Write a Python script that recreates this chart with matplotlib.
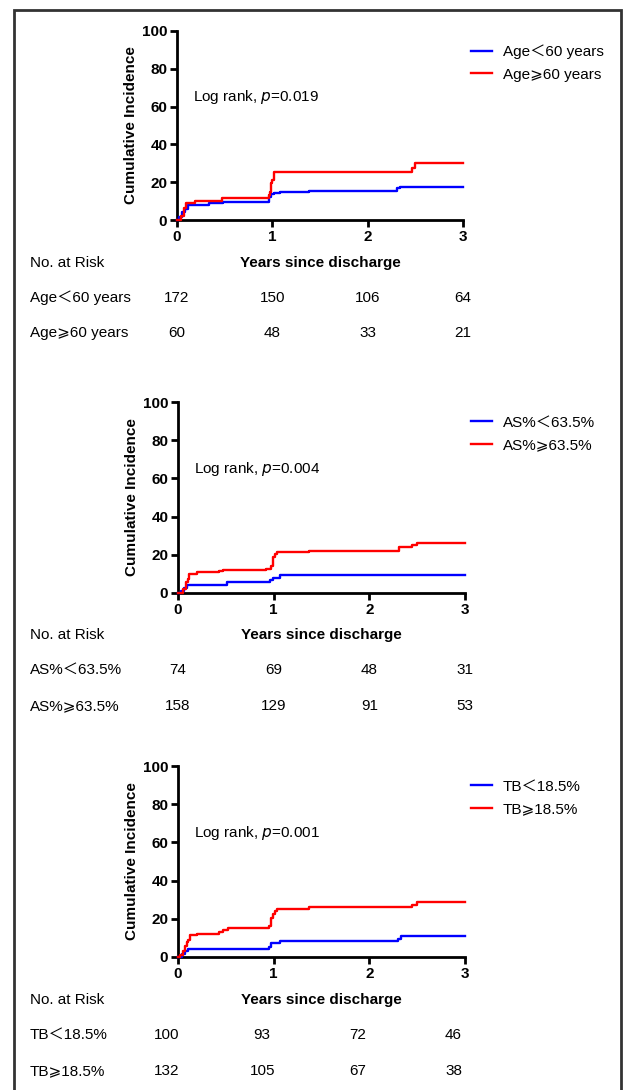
import numpy as np
import matplotlib
matplotlib.use('Agg')
import matplotlib.pyplot as plt
from matplotlib.lines import Line2D
from matplotlib.patches import Rectangle
from matplotlib.transforms import blended_transform_factory

plt.rcParams['font.family'] = ['Liberation Sans', 'Noto Sans CJK SC', 'DejaVu Sans']
plt.rcParams['font.size'] = 10.5

# ---- data ----
# Age
age_lo_t = [0, 0.02, 0.05, 0.08, 0.12, 0.34, 0.48, 0.97, 0.99, 1.02, 1.08, 1.38, 2.31, 2.34, 3.0]
age_lo_y = [0, 1.5, 4.0, 6.0, 7.9, 8.8, 9.7, 12.0, 13.5, 14.3, 15.0, 15.5, 16.7, 17.6, 17.6]
age_hi_t = [0, 0.04, 0.07, 0.095, 0.19, 0.47, 0.965, 0.98, 0.99, 1.0, 1.02, 2.46, 2.5, 3.0]
age_hi_y = [0, 2.0, 6.2, 8.8, 10.0, 11.8, 13.0, 15.0, 19.4, 21.0, 25.2, 27.6, 29.9, 29.9]
# AS%
as_lo_t = [0, 0.03, 0.06, 0.09, 0.51, 0.96, 0.99, 1.07, 3.0]
as_lo_y = [0, 1.0, 2.5, 4.2, 5.6, 7.0, 7.9, 9.6, 9.6]
as_hi_t = [0, 0.05, 0.08, 0.1, 0.12, 0.2, 0.43, 0.47, 0.92, 0.97, 0.99, 1.01, 1.04, 1.37, 2.31, 2.45, 2.5, 3.0]
as_hi_y = [0, 2.1, 5.6, 7.3, 10.0, 10.8, 11.4, 12.2, 12.6, 14.3, 18.7, 20.5, 21.3, 22.2, 24.0, 25.2, 26.2, 26.2]
# TB
tb_lo_t = [0, 0.045, 0.07, 0.1, 0.95, 0.97, 1.07, 2.3, 2.33, 3.0]
tb_lo_y = [0, 1.5, 3.0, 4.2, 5.2, 7.3, 8.2, 9.4, 10.8, 10.8]
tb_hi_t = [0, 0.02, 0.05, 0.07, 0.09, 0.1, 0.13, 0.2, 0.43, 0.47, 0.52, 0.95, 0.97, 0.99, 1.01, 1.04, 1.37, 2.45, 2.5, 3.0]
tb_hi_y = [0, 1.2, 3.0, 5.6, 7.7, 9.1, 11.7, 12.2, 12.9, 14.3, 15.2, 16.0, 20.5, 22.5, 24.0, 25.3, 26.0, 27.4, 28.7, 28.7]

risk_years = [0, 1, 2, 3]
age_lo_risk = [172, 150, 106, 64]
age_hi_risk = [60, 48, 33, 21]
as_lo_risk = [74, 69, 48, 31]
as_hi_risk = [158, 129, 91, 53]
tb_lo_risk = [100, 93, 72, 46]
tb_hi_risk = [132, 105, 67, 38]

labels = [("Age＜60 years", "Age⩾60 years"),
          ("AS%＜63.5%", "AS%⩾63.5%"),
          ("TB＜18.5%", "TB⩾18.5%")]
pvals = ["0.019", "0.004", "0.001"]

panels = [
    (age_lo_t, age_lo_y, age_hi_t, age_hi_y, age_lo_risk, age_hi_risk),
    (as_lo_t, as_lo_y, as_hi_t, as_hi_y, as_lo_risk, as_hi_risk),
    (tb_lo_t, tb_lo_y, tb_hi_t, tb_hi_y, tb_lo_risk, tb_hi_risk),
]

W, H = 627, 1090
fig = plt.figure(figsize=(W / 100, H / 100), dpi=100)

# pixel layout of each panel: (left, right, top(100), bottom(0)), row y's
boxes = [(177, 463, 31, 220), (178, 465, 402, 593), (178, 465, 766, 957)]
label_rows = [(263, 298, 333), (635, 670, 706), (1000, 1035, 1071)]
legend_top = [43, 414, 778]
risk_shift = [0.0, 0.0, -0.12]

for i, (lt, ly, ht, hy, lr, hr) in enumerate(panels):
    l, r, t, b = boxes[i]
    ax = fig.add_axes([l / W, 1 - b / H, (r - l) / W, (b - t) / H])
    ax.step(lt, ly, where='post', color='#0000ff', lw=1.7, clip_on=False, zorder=3)
    ax.step(ht, hy, where='post', color='#ff0000', lw=1.7, clip_on=False, zorder=3)
    ax.set_xlim(0, 3)
    ax.set_ylim(0, 100)
    ax.set_xticks([0, 1, 2, 3])
    ax.set_yticks([0, 20, 40, 60, 80, 100])
    for s in ['top', 'right']:
        ax.spines[s].set_visible(False)
    for s in ['left', 'bottom']:
        ax.spines[s].set_linewidth(2)
    ax.tick_params(width=2, length=5, labelsize=11, pad=2)
    for lab in ax.get_xticklabels() + ax.get_yticklabels():
        lab.set_fontweight('bold')
    ax.set_ylabel("Cumulative Incidence", fontsize=11, fontweight='bold', labelpad=3)
    ax.text(0.17, 65, "Log rank, $\\it{p}$=" + pvals[i], fontsize=11, va='center', ha='left')

    handles = [Line2D([], [], color='#0000ff', lw=1.7), Line2D([], [], color='#ff0000', lw=1.7)]
    fig.legend(handles, labels[i], loc='upper left', frameon=False,
               bbox_to_anchor=(457 / W, 1 - (legend_top[i] - 12) / H),
               handlelength=1.4, handletextpad=0.7, labelspacing=0.55, fontsize=11)

    ly0, ry1, ry2 = label_rows[i]
    fig.text(30 / W, 1 - ly0 / H, "No. at Risk", fontsize=11, va='center', ha='left')
    fig.text((l + r) / 2 / W, 1 - ly0 / H, "Years since discharge", fontsize=11,
             fontweight='bold', va='center', ha='center')
    fig.text(30 / W, 1 - ry1 / H, labels[i][0], fontsize=11, va='center', ha='left')
    fig.text(30 / W, 1 - ry2 / H, labels[i][1], fontsize=11, va='center', ha='left')
    tr = blended_transform_factory(ax.transData, fig.transFigure)
    for x, a, c in zip(risk_years, lr, hr):
        ax.text(x + risk_shift[i], 1 - ry1 / H, str(a), transform=tr, fontsize=11,
                va='center', ha='center', clip_on=False)
        ax.text(x + risk_shift[i], 1 - ry2 / H, str(c), transform=tr, fontsize=11,
                va='center', ha='center', clip_on=False)

# outer frame
fig.patches.append(Rectangle((14 / W, -0.01), (621 - 14) / W, 1 - 10 / H + 0.01,
                             transform=fig.transFigure, fill=False, lw=2,
                             edgecolor='#333333'))

fig.savefig('out.png', dpi=100)
